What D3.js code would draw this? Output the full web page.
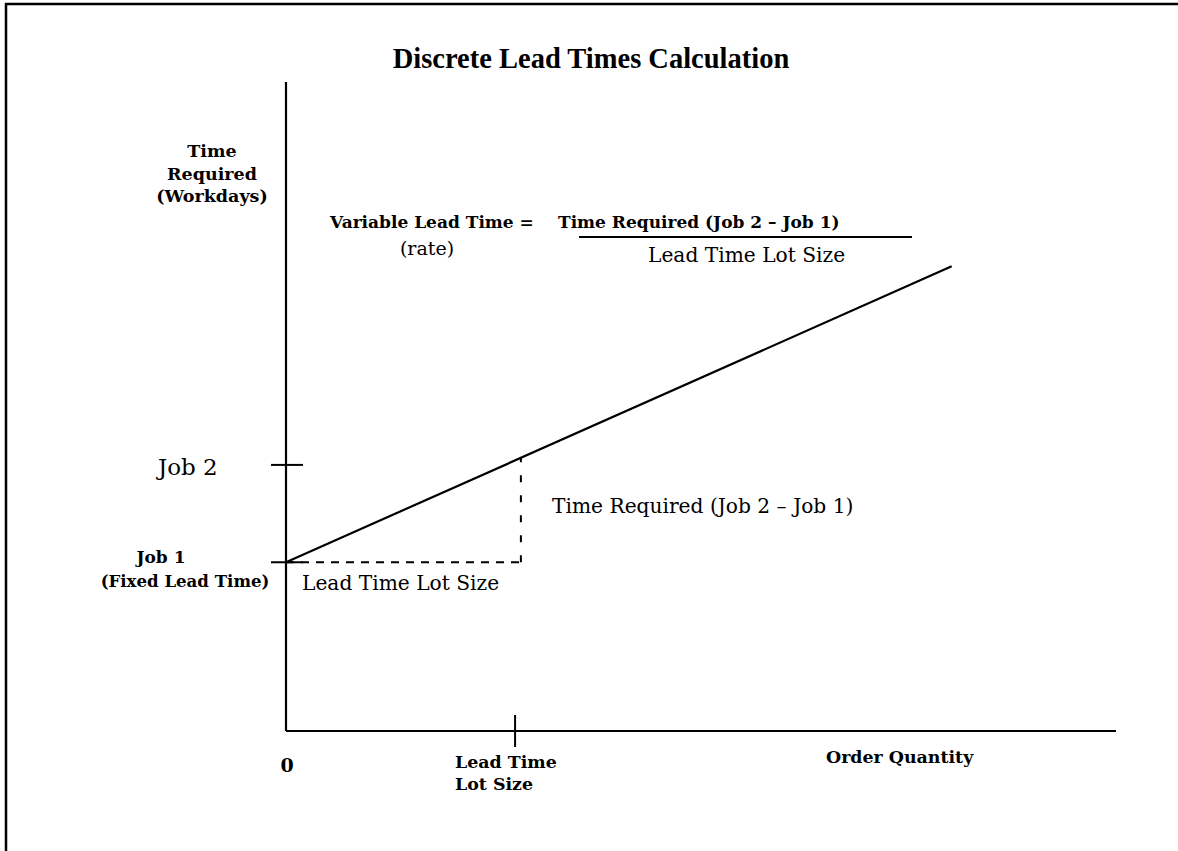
<!DOCTYPE html>
<html lang="en">
  <head>
    <meta charset="UTF-8" />
    <title>Discrete Lead Times Calculation</title>
    <style>
      body { margin: 0; background: #fff; }
      text { fill: #000; }
    </style>
  </head>
  <body>
    <svg id="svg" width="1178" height="851"></svg>

    <script src="https://d3js.org/d3.v7.min.js"></script>
    <script>
      // values (order quantity / workdays, arbitrary units)
      const qtyDomain = [0, 100];
      const timeDomain = [0, 100];
      const rateLine = [[0, 26], [80.2, 71.6]];
      const jobTicks = [
        { name: "Job 1", value: 26 },
        { name: "Job 2", value: 41 },
      ];
      const lotTick = 27.6;
      const lotCorner = [[0, 26], [28.3, 26], [28.3, 42.1]];

      const serif = "'DejaVu Serif', serif";
      const times = "'Liberation Serif', 'Times New Roman', serif";

      const svg = d3.select("#svg");

      // page frame
      svg.append("rect")
        .attr("x", 6).attr("y", 4)
        .attr("width", 1300).attr("height", 1000)
        .attr("fill", "none").attr("stroke", "#000").attr("stroke-width", 2.5);

      const x = d3.scaleLinear().domain(qtyDomain).range([286, 1116]);
      const y = d3.scaleLinear().domain(timeDomain).range([731, 82]);

      const g = svg.append("g").attr("stroke", "#000").attr("fill", "none");

      // axes
      g.append("line").attr("x1", x(0)).attr("x2", x(0))
        .attr("y1", y(0)).attr("y2", y(100)).attr("stroke-width", 2.2);
      g.append("line").attr("x1", x(0)).attr("x2", x(100))
        .attr("y1", y(0)).attr("y2", y(0)).attr("stroke-width", 2.2);

      // job ticks crossing y axis
      g.selectAll(".jt").data(jobTicks).enter().append("line")
        .attr("x1", x(0) - 15).attr("x2", x(0) + 17)
        .attr("y1", d => y(d.value)).attr("y2", d => y(d.value))
        .attr("stroke-width", 2);

      // lot size tick on x axis
      g.append("line").attr("x1", x(lotTick)).attr("x2", x(lotTick))
        .attr("y1", y(0) - 16).attr("y2", y(0) + 16).attr("stroke-width", 2);

      // dashed lot size / time required corner
      g.append("line")
        .attr("x1", x(lotCorner[0][0])).attr("y1", y(lotCorner[0][1]))
        .attr("x2", x(lotCorner[1][0])).attr("y2", y(lotCorner[1][1]))
        .attr("stroke-width", 2).attr("stroke-dasharray", "8,7");
      g.append("line")
        .attr("x1", x(lotCorner[1][0])).attr("y1", y(lotCorner[1][1]))
        .attr("x2", x(lotCorner[2][0])).attr("y2", y(lotCorner[2][1]))
        .attr("stroke-width", 2).attr("stroke-dasharray", "7,13");

      // lead time line
      g.append("path")
        .datum(rateLine)
        .attr("d", d3.line().x(d => x(d[0])).y(d => y(d[1])))
        .attr("stroke-width", 2.2);

      // formula fraction bar
      g.append("line").attr("x1", 579).attr("x2", 912)
        .attr("y1", 237).attr("y2", 237).attr("stroke-width", 2);

      const label = (txt, px, py, opts = {}) =>
        svg.append("text")
          .attr("x", px).attr("y", py)
          .attr("text-anchor", opts.anchor || "start")
          .attr("font-family", opts.family || serif)
          .attr("font-weight", opts.bold ? "bold" : "normal")
          .attr("font-size", opts.size || 19)
          .text(txt);

      label("Discrete Lead Times Calculation", 591, 68,
        { anchor: "middle", bold: true, size: 28.5, family: times });

      // y axis title
      label("Time", 212, 157, { anchor: "middle", bold: true, size: 17.5 });
      label("Required", 212, 180, { anchor: "middle", bold: true, size: 17.5 });
      label("(Workdays)", 212, 202, { anchor: "middle", bold: true, size: 17.5 });

      // formula
      label("Variable Lead Time =", 330, 228, { bold: true, size: 17 });
      label("(rate)", 427, 255, { anchor: "middle", size: 19 });
      label("Time Required (Job 2 \u2013 Job 1)", 558, 228, { bold: true, size: 17 });
      label("Lead Time Lot Size", 648, 262, { size: 20.2 });

      // job labels
      label("Job 2", 158, 475, { size: 23 });
      label("Job 1", 161, 563, { anchor: "middle", bold: true, size: 17 });
      label("(Fixed Lead Time)", 185, 587, { anchor: "middle", bold: true, size: 16.6 });

      // in-plot annotations
      label("Time Required (Job 2 \u2013 Job 1)", 552, 513, { size: 20.2 });
      label("Lead Time Lot Size", 302, 590, { size: 20.2 });

      // x axis labels
      label("0", 287, 772, { anchor: "middle", bold: true, size: 19 });
      label("Lead Time", 455, 768, { bold: true, size: 17.4 });
      label("Lot Size", 455, 790, { bold: true, size: 17.4 });
      label("Order Quantity", 826, 763, { bold: true, size: 17.4 });
    </script>
  </body>
</html>
